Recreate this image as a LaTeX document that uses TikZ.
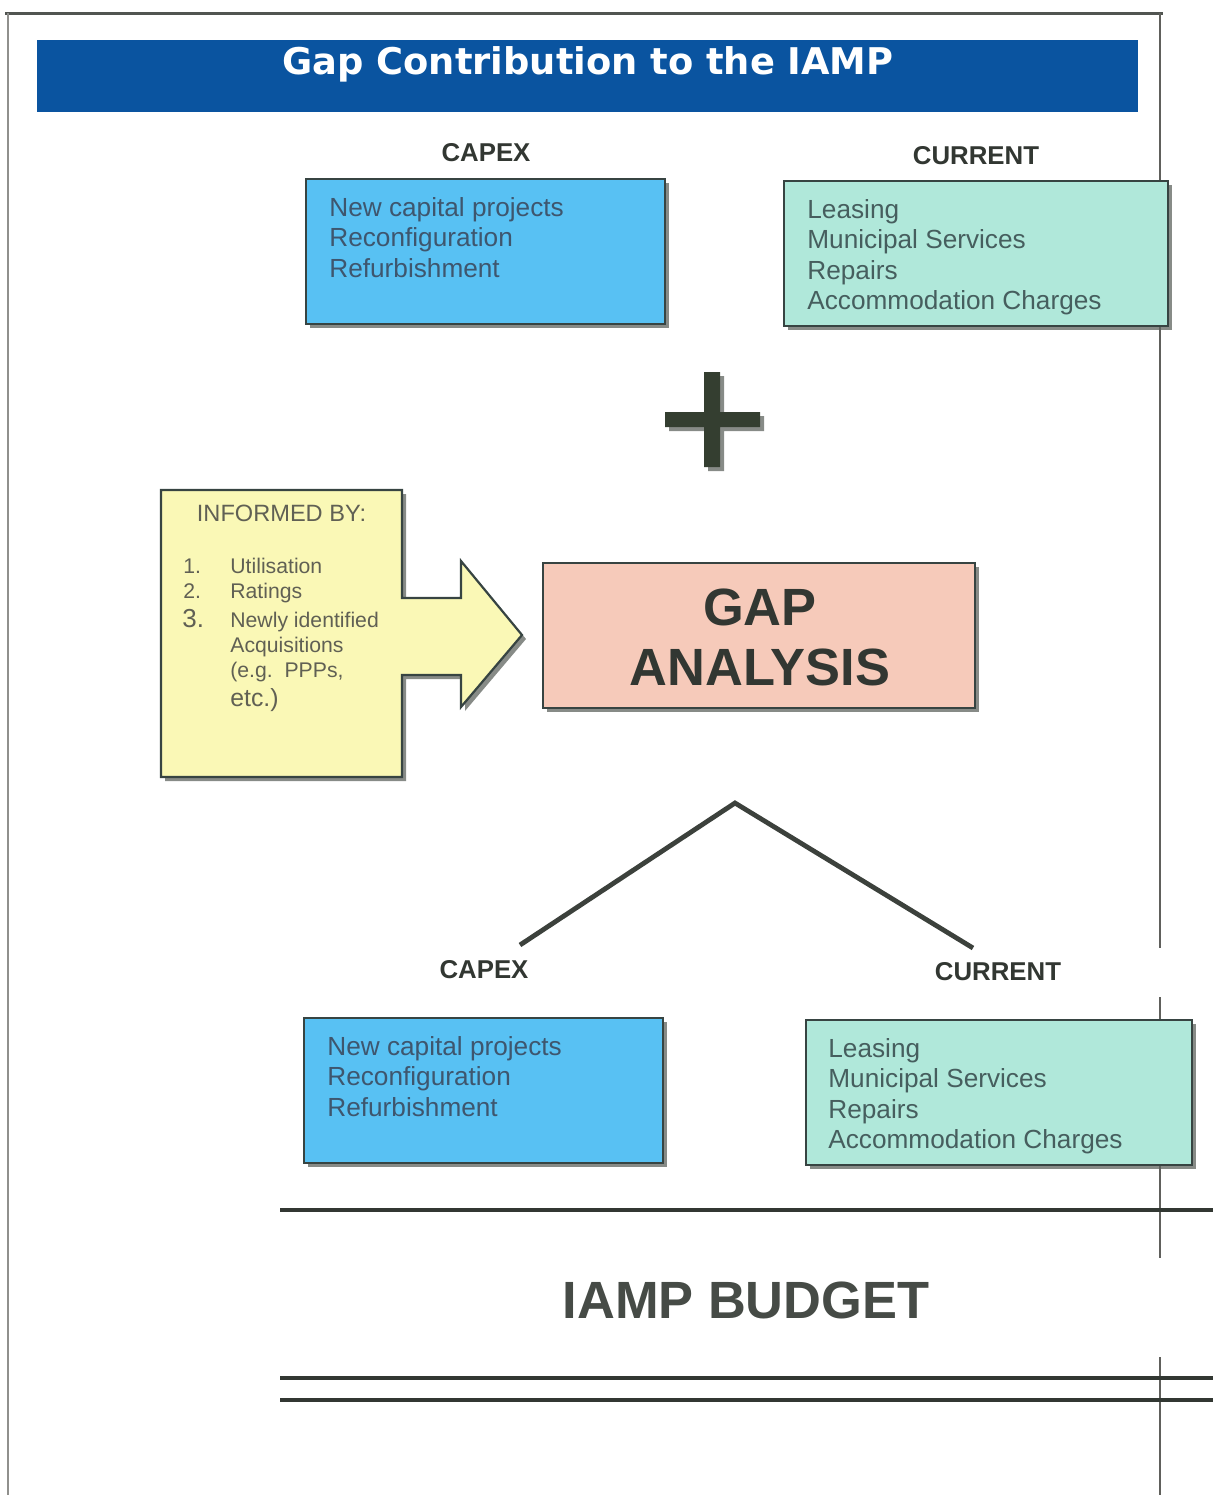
\documentclass[tikz,border=0pt]{standalone}
\usepackage{fontspec}
\setmainfont{Liberation Sans}
\newfontfamily\headfont{DejaVu Sans}
\usetikzlibrary{shadows}

\definecolor{barblue}{RGB}{10,84,160}
\definecolor{capexblue}{RGB}{88,193,243}
\definecolor{currentteal}{RGB}{176,232,218}
\definecolor{noteyellow}{RGB}{250,248,182}
\definecolor{gapsalmon}{RGB}{246,202,186}
\definecolor{boxedge}{RGB}{55,68,66}
\definecolor{darkink}{RGB}{50,55,50}
\definecolor{plusink}{RGB}{52,62,48}
\definecolor{capextext}{RGB}{62,86,110}
\definecolor{currenttext}{RGB}{70,94,94}
\definecolor{notetext}{RGB}{96,96,84}
\definecolor{framegray}{RGB}{96,96,92}
\definecolor{shadowgray}{RGB}{95,100,95}

\begin{document}
\begin{tikzpicture}[x=0.5pt,y=-0.5pt,
  shade box/.style={drop shadow={shadow xshift=2pt, shadow yshift=-2pt, fill=shadowgray, opacity=0.75}},
  panel/.style={rectangle, draw=boxedge, line width=1.1pt, inner sep=0pt, shade box},
  capexbox/.style={panel, fill=capexblue, minimum width=179.5pt, minimum height=72.5pt},
  currentbox/.style={panel, fill=currentteal, minimum height=72.5pt},
  boxlist/.style={anchor=north west, inner sep=0pt, align=left,
    font=\fontsize{13.1}{15.25}\selectfont},
  heading/.style={inner sep=0pt, text=darkink, font=\bfseries\fontsize{12.9}{15}\selectfont},
  noteitem/.style={anchor=base west, inner sep=0pt, text=notetext, font=\fontsize{10.6}{12}\selectfont},
  thickrule/.style={draw=darkink, line width=2.4pt},
  treeline/.style={draw=darkink!95, line width=2.4pt},
  frameline/.style={draw=framegray, line width=1.4pt}
]
\useasboundingbox (0,0) rectangle (1213,1495);

% page frame
\coordinate (ftl) at (5,13);
\coordinate (ftr) at (1163,13);
\coordinate (fl) at (8,13);
\coordinate (flb) at (8,1495);
\draw[draw=darkink!85, line width=1.5pt] (ftl) -- (ftr);
\draw[draw=framegray!70, line width=1pt] (fl) -- (flb);
\draw[frameline] (1160,13) -- (1160,948);
\draw[frameline] (1160,997) -- (1160,1258);
\draw[frameline] (1160,1357) -- (1160,1495);

% title bar
\node[fill=barblue, minimum width=550.5pt, minimum height=36pt, inner sep=0pt] (titlebar) at (587.5,76) {};
\node[text=white, font=\headfont\bfseries\fontsize{18.4}{20}\selectfont, inner sep=0pt] (title) at (588,64) {Gap Contribution to the IAMP};

% upper pair of budget boxes
\node[heading] (capexTopLbl) at (486,153) {CAPEX};
\node[heading] (currentTopLbl) at (976,156) {CURRENT};
\node[capexbox] (capexTop) at (485.5,251.5) {};
\node[currentbox, minimum width=192pt] (currentTop) at (976,253.5) {};
\node[boxlist, text=capextext] (capexTopTxt) at (329,197) {New capital projects\\Reconfiguration\\Refurbishment};
\node[boxlist, text=currenttext] (currentTopTxt) at (807,199) {Leasing\\Municipal Services\\Repairs\\Accommodation Charges};

% plus sign
\fill[plusink, shade box] (665,412) -- (704,412) -- (704,372) -- (720,372) -- (720,412)
  -- (760,412) -- (760,427) -- (720,427) -- (720,467) -- (704,467) -- (704,427)
  -- (665,427) -- cycle;

% informing factors, box with arrow
\draw[draw=boxedge, line width=1.1pt, fill=noteyellow, shade box]
  (161,490) -- (402,490) -- (402,598) -- (461,598) -- (461,561) -- (522,635)
  -- (461,707) -- (461,675) -- (402,675) -- (402,777) -- (161,777) -- cycle;
\node[inner sep=0pt, text=notetext, font=\fontsize{11.8}{13}\selectfont] (informed) at (281.5,513) {INFORMED BY:};
\node[noteitem] (n1) at (183,573.5) {1.};
\node[noteitem] (n2) at (183,598.5) {2.};
\node[noteitem, font=\fontsize{13}{14}\selectfont] (n3) at (182,627.5) {3.};
\node[noteitem] (i1) at (230,573.5) {Utilisation};
\node[noteitem] (i2) at (230,598.5) {Ratings};
\node[noteitem] (i3) at (230,627.5) {Newly identified};
\node[noteitem] (i4) at (230,652.5) {Acquisitions};
\node[noteitem] (i5) at (230,677.5) {(e.g.\ \ PPPs,};
\node[noteitem, font=\fontsize{12.4}{14}\selectfont] (i6) at (230,706) {etc.)};

% gap analysis
\node[panel, fill=gapsalmon, minimum width=216pt, minimum height=72.5pt] (gap) at (759,635.5) {};
\node[inner sep=0pt, align=center, text=darkink, font=\bfseries\fontsize{26.2}{30}\selectfont] (gapTxt) at (760,637) {GAP\\ANALYSIS};

% split into the two budget streams
\coordinate (apex) at (735,803);
\coordinate (leftEnd) at (520,945);
\coordinate (rightEnd) at (973,948);
\draw[treeline] (leftEnd) -- (apex) -- (rightEnd);

% lower pair of budget boxes
\node[heading] (capexBotLbl) at (484,970) {CAPEX};
\node[heading] (currentBotLbl) at (998,972) {CURRENT};
\node[capexbox] (capexBot) at (483.5,1090.5) {};
\node[currentbox, minimum width=193pt] (currentBot) at (999,1092.5) {};
\node[boxlist, text=capextext] (capexBotTxt) at (327,1036) {New capital projects\\Reconfiguration\\Refurbishment};
\node[boxlist, text=currenttext] (currentBotTxt) at (828,1038) {Leasing\\Municipal Services\\Repairs\\Accommodation Charges};

% budget band
\coordinate (r1a) at (280,1210); \coordinate (r1b) at (1213,1210);
\coordinate (r2a) at (280,1378); \coordinate (r2b) at (1213,1378);
\coordinate (r3a) at (280,1400); \coordinate (r3b) at (1213,1400);
\draw[thickrule] (r1a) -- (r1b);
\draw[thickrule] (r2a) -- (r2b);
\draw[thickrule] (r3a) -- (r3b);
\node[inner sep=0pt, text=darkink!90, font=\bfseries\fontsize{26.2}{30}\selectfont] (budget) at (746,1300) {IAMP BUDGET};
\end{tikzpicture}
\end{document}
